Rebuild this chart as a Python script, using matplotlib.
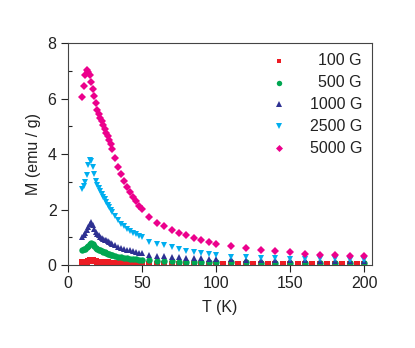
import matplotlib
matplotlib.use('Agg')
import matplotlib.pyplot as plt
from matplotlib.ticker import MultipleLocator

plt.rcParams['font.family'] = ['Liberation Sans', 'DejaVu Sans']

# temperature grid (K)
T_low = [10, 11, 12, 13, 14, 15, 16, 17, 18, 19, 20, 21, 22, 23, 24, 25, 26, 27, 28, 29, 30,
         32, 34, 36, 38, 40, 42, 44, 46, 48, 50]
T_mid = [55, 60, 65, 70, 75, 80, 85, 90, 95, 100]
T_high = [110, 120, 130, 140, 150, 160, 170, 180, 190, 200]
T_red_tail = [55, 60, 65, 70, 75, 80, 85, 90, 95, 100, 105, 110, 115, 120, 125, 130, 135, 140,
              145, 150, 155, 160, 165, 170, 175, 180, 185, 190, 195, 200]

m_100 = [0.10, 0.11, 0.12, 0.13, 0.15, 0.17, 0.18, 0.17, 0.15, 0.14, 0.13, 0.12, 0.12, 0.11,
         0.11, 0.10, 0.10, 0.10, 0.09, 0.09, 0.09,
         0.08, 0.08, 0.08, 0.07, 0.07, 0.07, 0.06, 0.06, 0.06, 0.06,
         0.05, 0.05, 0.05, 0.05, 0.05, 0.05, 0.04, 0.04, 0.04, 0.04, 0.04, 0.04, 0.04, 0.04,
         0.04, 0.04, 0.03, 0.03, 0.03, 0.03, 0.03, 0.03, 0.03, 0.03, 0.03, 0.03, 0.03, 0.03,
         0.03, 0.03]
m_500 = [0.55, 0.57, 0.60, 0.64, 0.70, 0.77, 0.80, 0.76, 0.68, 0.63, 0.59, 0.56, 0.53, 0.50,
         0.48, 0.46, 0.44, 0.42, 0.40, 0.38, 0.36,
         0.33, 0.31, 0.29, 0.27, 0.25, 0.23, 0.22, 0.21, 0.20, 0.19,
         0.17, 0.16, 0.15, 0.14, 0.13, 0.13, 0.12, 0.12, 0.11, 0.11,
         0.10, 0.10, 0.09, 0.09, 0.09, 0.08, 0.08, 0.08, 0.08, 0.07]
m_1000 = [1.03, 1.08, 1.15, 1.25, 1.38, 1.50, 1.55, 1.45, 1.30, 1.20, 1.12, 1.07, 1.03, 0.99,
          0.95, 0.92, 0.89, 0.86, 0.83, 0.80, 0.77,
          0.72, 0.67, 0.63, 0.59, 0.56, 0.53, 0.50, 0.47, 0.45, 0.43,
          0.37, 0.34, 0.32, 0.30, 0.28, 0.27, 0.26, 0.25, 0.24, 0.23,
          0.21, 0.20, 0.19, 0.18, 0.17, 0.17, 0.16, 0.16, 0.15, 0.15]
m_2500 = [2.74, 2.85, 3.00, 3.25, 3.60, 3.80, 3.75, 3.55, 3.30, 3.05, 2.90, 2.78, 2.68, 2.58,
          2.47, 2.37, 2.27, 2.18, 2.08, 1.99, 1.91,
          1.76, 1.62, 1.50, 1.40, 1.31, 1.24, 1.17, 1.11, 1.06, 1.01,
          0.85, 0.77, 0.71, 0.64, 0.58, 0.52, 0.47, 0.43, 0.41, 0.37,
          0.31, 0.29, 0.27, 0.25, 0.24, 0.23, 0.22, 0.21, 0.20, 0.20]
m_5000 = [6.07, 6.46, 6.87, 7.02, 6.95, 6.85, 6.60, 6.35, 6.10, 5.85, 5.60, 5.45, 5.32, 5.18,
          5.05, 4.90, 4.76, 4.64, 4.50, 4.35, 4.18,
          3.85, 3.55, 3.28, 3.02, 2.82, 2.63, 2.46, 2.30, 2.15, 2.03,
          1.73, 1.53, 1.40, 1.28, 1.17, 1.08, 0.98, 0.90, 0.84, 0.78,
          0.68, 0.62, 0.56, 0.51, 0.47, 0.42, 0.38, 0.36, 0.33, 0.32]

labels = ['100 G', '500 G', '1000 G', '2500 G', '5000 G']
colors = ['#ed1c24', '#00a651', '#2e3192', '#00aeef', '#ec008c']
markers = ['s', 'o', '^', 'v', 'D']
sizes = [3.8, 4.6, 5.0, 5.0, 4.2]

T_all = T_low + T_mid + T_high
T_red = T_low + T_red_tail
series = [(T_red, m_100), (T_all, m_500), (T_all, m_1000), (T_all, m_2500), (T_all, m_5000)]

fig = plt.figure(figsize=(4.15, 3.48), dpi=100)
ax = fig.add_axes([0.163, 0.238, 0.733, 0.638])

for (t, m), c, mk, s in zip(series, colors, markers, sizes):
    ax.plot(t, m, linestyle='none', marker=mk, color=c, markersize=s, markeredgewidth=0)

ax.set_xlim(0, 205)
ax.set_ylim(0, 8)
ax.xaxis.set_major_locator(MultipleLocator(50))
ax.xaxis.set_minor_locator(MultipleLocator(25))
ax.yaxis.set_major_locator(MultipleLocator(2))
ax.yaxis.set_minor_locator(MultipleLocator(1))
ax.tick_params(which='major', direction='out', length=5, width=0.8, labelsize=11.5, pad=3,
               colors='#222222')
ax.tick_params(which='minor', direction='in', length=3, width=0.8, colors='#222222')
for sp in ax.spines.values():
    sp.set_color('#444444')
    sp.set_linewidth(0.8)

ax.set_xlabel('T (K)', fontsize=11.5, color='#222222', labelpad=6)
ax.set_ylabel('M (emu / g)', fontsize=11.5, color='#222222', labelpad=5)

# legend: marker on the left, text right aligned
for i, (lab, c, mk, s) in enumerate(zip(labels, colors, markers, sizes)):
    y = 0.921 - i * 0.0986
    ax.plot([0.695], [y], transform=ax.transAxes, linestyle='none', marker=mk, color=c,
            markersize=s * 0.85, markeredgewidth=0, clip_on=False)
    ax.text(0.968, y, lab, transform=ax.transAxes, ha='right', va='center', fontsize=11.5,
            color='#222222')

fig.savefig('out.png', dpi=100)
